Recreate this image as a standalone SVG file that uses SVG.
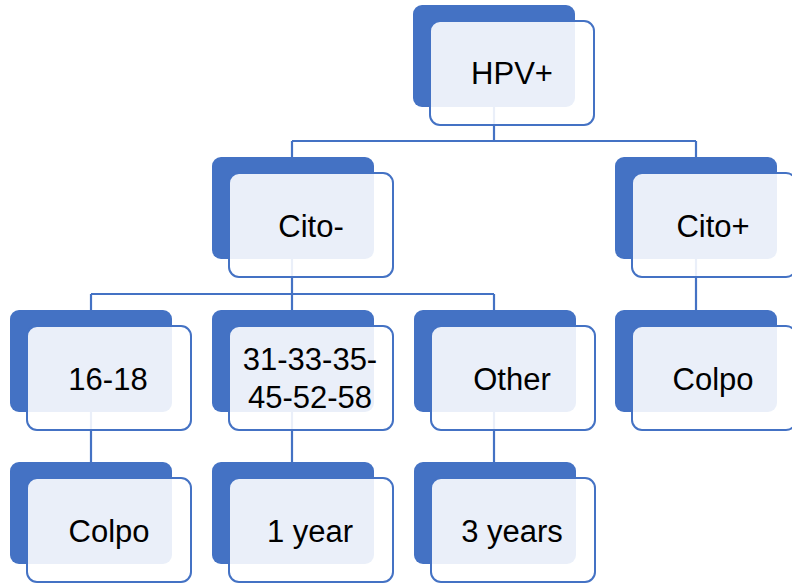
<svg xmlns="http://www.w3.org/2000/svg" width="792" height="583" viewBox="0 0 792 583">
<style>
.back{fill:#4472C4}
.front{fill:#FFFFFF;fill-opacity:0.89;stroke:#4472C4;stroke-width:2}
.conn{stroke:#4472C4;stroke-width:2.2;fill:none}
text{font-family:"Liberation Sans",Arial,sans-serif;font-size:31px;fill:#000;text-anchor:middle}
</style>
<rect width="792" height="583" fill="#FFFFFF"/>
<g id="backs">
<rect class="back" x="413" y="5" width="162" height="102" rx="9"/>
<rect class="back" x="212" y="157" width="162" height="102" rx="9"/>
<rect class="back" x="615" y="157" width="162" height="102" rx="9"/>
<rect class="back" x="10" y="310" width="162" height="102" rx="9"/>
<rect class="back" x="212" y="310" width="162" height="102" rx="9"/>
<rect class="back" x="414" y="310" width="162" height="102" rx="9"/>
<rect class="back" x="615" y="310" width="162" height="102" rx="9"/>
<rect class="back" x="10" y="462" width="162" height="102" rx="9"/>
<rect class="back" x="212" y="462" width="162" height="102" rx="9"/>
<rect class="back" x="414" y="462" width="162" height="102" rx="9"/>
</g>
<g id="connectors">
<path class="conn" d="M494 107 V141 M292 141 H696 M292 141 V157 M696 141 V157"/>
<path class="conn" d="M292 259 V294 M91 294 H494 M91 294 V310 M292 294 V310 M494 294 V310"/>
<path class="conn" d="M696 259 V310"/>
<path class="conn" d="M91 412 V462 M292 412 V462 M494 412 V462"/>
</g>
<g id="n-hpv">
<rect class="front" x="430" y="21" width="164" height="104" rx="10"/>
<text x="512" y="84">HPV+</text>
</g>
<g id="n-citoneg">
<rect class="front" x="229" y="173" width="164" height="104" rx="10"/>
<text x="311" y="237">Cito-</text>
</g>
<g id="n-citopos">
<rect class="front" x="632" y="173" width="164" height="104" rx="10"/>
<text x="713" y="237">Cito+</text>
</g>
<g id="n-1618">
<rect class="front" x="27" y="326" width="164" height="104" rx="10"/>
<text x="108" y="390">16-18</text>
</g>
<g id="n-31">
<rect class="front" x="229" y="326" width="164" height="104" rx="10"/>
<text x="310" y="370">31-33-35-</text>
<text x="310" y="408">45-52-58</text>
</g>
<g id="n-other">
<rect class="front" x="431" y="326" width="164" height="104" rx="10"/>
<text x="512" y="390">Other</text>
</g>
<g id="n-colpo-r">
<rect class="front" x="632" y="326" width="164" height="104" rx="10"/>
<text x="713" y="390">Colpo</text>
</g>
<g id="n-colpo">
<rect class="front" x="27" y="478" width="164" height="104" rx="10"/>
<text x="109" y="542">Colpo</text>
</g>
<g id="n-1year">
<rect class="front" x="229" y="478" width="164" height="104" rx="10"/>
<text x="310" y="542">1 year</text>
</g>
<g id="n-3years">
<rect class="front" x="431" y="478" width="164" height="104" rx="10"/>
<text x="512" y="542">3 years</text>
</g>
</svg>
